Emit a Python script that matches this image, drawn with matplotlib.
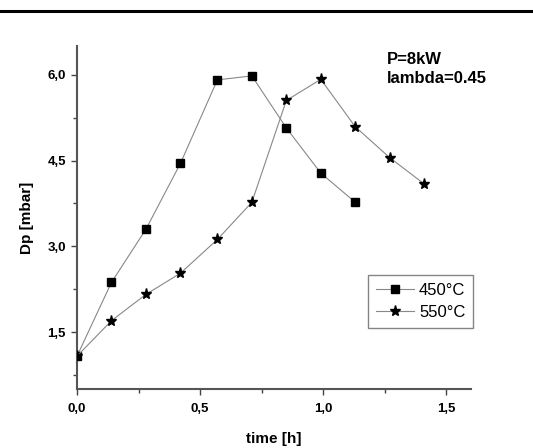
import numpy as np
from matplotlib import pyplot as plt
from matplotlib.lines import Line2D

plt.rcParams["font.family"] = ["Liberation Sans", "DejaVu Sans"]

# data
t_450 = [0.0, 0.14, 0.28, 0.42, 0.57, 0.71, 0.85, 0.99, 1.13]
dp_450 = [1.08, 2.37, 3.30, 4.45, 5.91, 5.98, 5.07, 4.28, 3.77]
t_550 = [0.0, 0.14, 0.28, 0.42, 0.57, 0.71, 0.85, 0.99, 1.13, 1.27, 1.41]
dp_550 = [1.08, 1.70, 2.16, 2.53, 3.12, 3.77, 5.55, 5.92, 5.09, 4.55, 4.09]

x_ticks = [0.0, 0.5, 1.0, 1.5]
x_labels = ["0,0", "0,5", "1,0", "1,5"]
y_ticks = [1.5, 3.0, 4.5, 6.0]
y_labels = ["1,5", "3,0", "4,5", "6,0"]

fig = plt.figure(figsize=(5.33, 4.48), dpi=100)
ax = fig.add_axes([0.1445, 0.131, 0.7392, 0.766])

ax.plot(t_450, dp_450, color='#888888', lw=0.8, marker='s', markersize=6,
        markerfacecolor='black', markeredgecolor='black', label='450°C', zorder=3)
ax.plot(t_550, dp_550, color='#888888', lw=0.8, marker='*', markersize=8,
        markerfacecolor='black', markeredgecolor='black', label='550°C', zorder=3)

ax.set_xlim(0, 1.6)
ax.set_ylim(0.5, 6.5)

ax.set_xticks(x_ticks)
ax.set_xticklabels(x_labels, fontsize=9.5, fontweight='bold')
ax.set_xticks(np.arange(0.25, 1.6, 0.5), minor=True)
ax.set_yticks(y_ticks)
ax.set_yticklabels(y_labels, fontsize=9.5, fontweight='bold')
ax.set_yticks(np.arange(0.75, 6.5, 1.5), minor=True)

ax.tick_params(which='major', direction='out', length=4, width=1, color='#444444')
ax.tick_params(axis='x', which='major', pad=6)
ax.tick_params(axis='y', which='major', pad=4)
ax.tick_params(which='minor', direction='out', length=3, width=1, color='#444444')

for s in ['top', 'right']:
    ax.spines[s].set_visible(False)
for s in ['left', 'bottom']:
    ax.spines[s].set_color('#555555')
    ax.spines[s].set_linewidth(1.5)

ax.set_xlabel('time [h]', fontsize=11, fontweight='bold', labelpad=12)
ax.set_ylabel('Dp [mbar]', fontsize=11, fontweight='bold', labelpad=10)

ax.text(1.26, 6.4, 'P=8kW\nlambda=0.45', fontsize=12, fontweight='bold',
        va='top', ha='left', linespacing=1.35)

leg = ax.legend(loc='upper right', bbox_to_anchor=(1.005, 0.333), fontsize=12,
                frameon=True, fancybox=False, edgecolor='#666666',
                handlelength=2.3, handletextpad=0.3, borderpad=0.45,
                labelspacing=0.45, borderaxespad=0)
leg.get_frame().set_linewidth(1.0)

fig.add_artist(Line2D([0, 1], [1 - 11 / 448, 1 - 11 / 448], color='black', lw=2.2,
                      transform=fig.transFigure))

fig.savefig('out.png', dpi=100)
